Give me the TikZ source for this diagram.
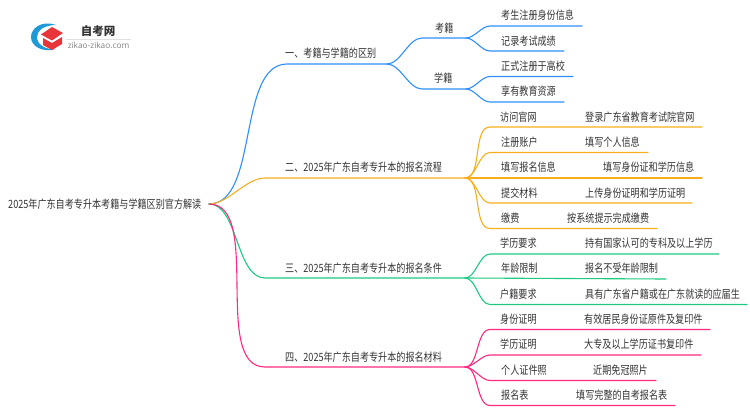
\documentclass[tikz,border=0pt]{standalone}
\usepackage{xcolor}
\usepackage{fontspec}
\setmainfont{Noto Sans CJK SC}
\newfontfamily\latinsans{Open Sans}

\definecolor{bluebranch}{HTML}{2E8FFF}
\definecolor{orangebranch}{HTML}{F8AE1C}
\definecolor{greenbranch}{HTML}{1CCB80}
\definecolor{pinkbranch}{HTML}{FF2A7F}
\definecolor{labelgray}{HTML}{333333}
\definecolor{logoblue}{HTML}{1E9AD6}
\definecolor{logored}{HTML}{E8353A}

\begin{document}
\begin{tikzpicture}[x=1pt,y=-1pt]
    % Define styles
    \tikzset{
        label/.style={inner sep=0pt, text=labelgray, yscale=1.25, font=\fontsize{9.1}{11}\selectfont},
        leftlabel/.style={label, anchor=west},
        branch/.style={line width=1.1pt, line cap=round},
        blueline/.style={branch, draw=bluebranch},
        orangeline/.style={branch, draw=orangebranch},
        greenline/.style={branch, draw=greenbranch},
        pinkline/.style={branch, draw=pinkbranch},
        scurve/.style={out=0, in=180, looseness=0.8}
    }
    \useasboundingbox (0,0) rectangle (750,410);

    % Logo
    \fill[logoblue] (56,25) .. controls (42,20) and (31,28) .. (31,37)
        .. controls (31,46) and (42,53) .. (56,49)
        .. controls (46,50) and (37,45) .. (37,37)
        .. controls (37,30) and (45,25) .. (56,25) -- cycle;
    \fill[logored] (41,34.5) -- (52,27) -- (63,33) -- (52,40.5) -- cycle;
    \fill[logored] (43,38) -- (52,43) -- (62,37) -- (62,44) -- (52,50) -- (43,45) -- cycle;
    \node[inner sep=0pt, text=labelgray, font=\fontsize{11.5}{12}\selectfont\bfseries] (logo_title) at (98,31) {自考网};
    \node[inner sep=0pt, text=gray, font=\fontsize{8.3}{9}\selectfont\latinsans] (logo_url) at (98.5,45) {zikao-zikao.com};
    \draw[black!12, line width=0.5pt] (66,39) -- (131,39);

    % Nodes
    \node[leftlabel] (root_node) at (8,204.5) {2025年广东自考专升本考籍与学籍区别官方解读};
    \node[leftlabel] (part_one) at (285,53) {一、考籍与学籍的区别};
    \node[leftlabel] (part_two) at (285,167.5) {二、2025年广东自考专升本的报名流程};
    \node[leftlabel] (part_three) at (285,268) {三、2025年广东自考专升本的报名条件};
    \node[leftlabel] (part_four) at (285,357) {四、2025年广东自考专升本的报名材料};

    \node[leftlabel] (kaoji) at (435,28) {考籍};
    \node[leftlabel] (xueji) at (434,78.5) {学籍};
    \node[leftlabel] (kaoji_a) at (501,15) {考生注册身份信息};
    \node[leftlabel] (kaoji_b) at (501,41) {记录考试成绩};
    \node[leftlabel] (xueji_a) at (501,66) {正式注册于高校};
    \node[leftlabel] (xueji_b) at (501,91) {享有教育资源};

    \node[leftlabel] (step_a) at (500,117) {访问官网};
    \node[leftlabel] (step_a_text) at (585,117) {登录广东省教育考试院官网};
    \node[leftlabel] (step_b) at (501,142) {注册账户};
    \node[leftlabel] (step_b_text) at (585,142) {填写个人信息};
    \node[leftlabel] (step_c) at (501,167) {填写报名信息};
    \node[leftlabel] (step_c_text) at (603,167) {填写身份证和学历信息};
    \node[leftlabel] (step_d) at (501,193) {提交材料};
    \node[leftlabel] (step_d_text) at (585,193) {上传身份证明和学历证明};
    \node[leftlabel] (step_e) at (501,218) {缴费};
    \node[leftlabel] (step_e_text) at (567,218) {按系统提示完成缴费};

    \node[leftlabel] (cond_a) at (500,243) {学历要求};
    \node[leftlabel] (cond_a_text) at (585,243) {持有国家认可的专科及以上学历};
    \node[leftlabel] (cond_b) at (501,268) {年龄限制};
    \node[leftlabel] (cond_b_text) at (585,268) {报名不受年龄限制};
    \node[leftlabel] (cond_c) at (500,294) {户籍要求};
    \node[leftlabel] (cond_c_text) at (585,294) {具有广东省户籍或在广东就读的应届生};

    \node[leftlabel] (doc_a) at (500,319) {身份证明};
    \node[leftlabel] (doc_a_text) at (584,319) {有效居民身份证原件及复印件};
    \node[leftlabel] (doc_b) at (500,344) {学历证明};
    \node[leftlabel] (doc_b_text) at (584,344) {大专及以上学历证书复印件};
    \node[leftlabel] (doc_c) at (501,370) {个人证件照};
    \node[leftlabel] (doc_c_text) at (593,370) {近期免冠照片};
    \node[leftlabel] (doc_d) at (501,395) {报名表};
    \node[leftlabel] (doc_d_text) at (576,395) {填写完整的自考报名表};

    % Line ends
    \coordinate (root) at (209,204);
    \coordinate (fork_one) at (387,64);
    \coordinate (fork_two) at (465,178);
    \coordinate (fork_three) at (465,278);
    \coordinate (fork_four) at (465,367);
    \coordinate (fork_kaoji) at (466,38);
    \coordinate (fork_xueji) at (466,89);

    % Part one
    \draw[blueline] (root) to[scurve] (287,64) -- (fork_one);
    \draw[blueline] (fork_one) to[scurve] (422,38) -- (fork_kaoji);
    \draw[blueline] (fork_one) to[scurve] (422,89) -- (fork_xueji);
    \draw[blueline] (fork_kaoji) to[scurve] (490,26) -- (582,26);
    \draw[blueline] (fork_kaoji) to[scurve] (490,51) -- (564,51);
    \draw[blueline] (fork_xueji) to[scurve] (490,76.5) -- (573,76.5);
    \draw[blueline] (fork_xueji) to[scurve] (490,102) -- (564,102);

    % Part two
    \draw[orangeline] (root) to[scurve] (265,178) -- (fork_two);
    \draw[orangeline] (fork_two) to[scurve] (490,127) -- (702,127);
    \draw[orangeline] (fork_two) to[scurve] (490,152.5) -- (648,152.5);
    \draw[orangeline] (fork_two) -- (702,178);
    \draw[orangeline] (fork_two) to[scurve] (490,203) -- (692,203);
    \draw[orangeline] (fork_two) to[scurve] (490,228.5) -- (657,228.5);

    % Part three
    \draw[greenline] (root) to[scurve] (265,278) -- (fork_three);
    \draw[greenline] (fork_three) to[scurve] (490,254) -- (719,254);
    \draw[greenline] (fork_three) -- (666,279);
    \draw[greenline] (fork_three) to[scurve] (490,304.5) -- (747,304.5);

    % Part four
    \draw[pinkline] (root) to[scurve] (265,367) -- (fork_four);
    \draw[pinkline] (fork_four) to[scurve] (490,329.5) -- (710,329.5);
    \draw[pinkline] (fork_four) to[scurve] (490,355) -- (701,355);
    \draw[pinkline] (fork_four) to[scurve] (490,380.5) -- (656,380.5);
    \draw[pinkline] (fork_four) to[scurve] (490,405.5) -- (675,405.5);
\end{tikzpicture}
\end{document}
